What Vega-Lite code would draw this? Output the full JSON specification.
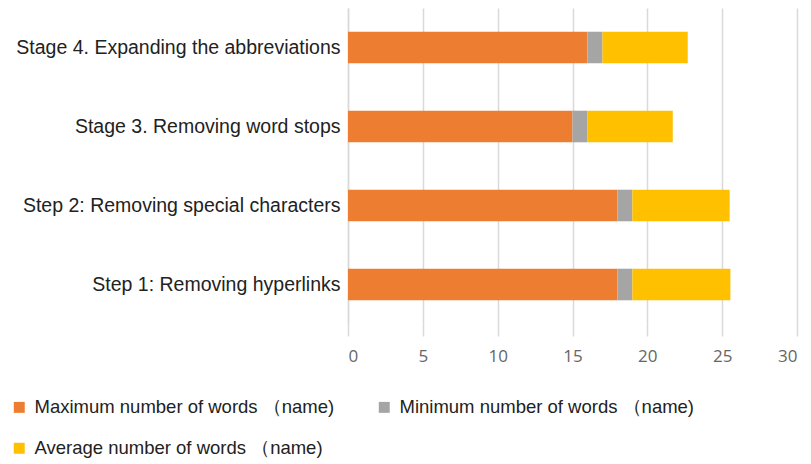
{
  "$schema": "https://vega.github.io/schema/vega-lite/v6.json",
  "width": 449,
  "height": 316,
  "autosize": {"type": "none"},
  "padding": {"left": 348, "top": 8, "right": 14, "bottom": 140},
  "background": "white",
  "config": {"view": {"stroke": null}, "font": "Liberation Sans"},
  "data": {"values": [
    {"stage": "Stage 4. Expanding the abbreviations", "series": "Maximum number of words （name)", "ord": 1, "value": 16},
    {"stage": "Stage 4. Expanding the abbreviations", "series": "Minimum number of words （name)", "ord": 2, "value": 1},
    {"stage": "Stage 4. Expanding the abbreviations", "series": "Average number of words （name)", "ord": 3, "value": 5.7},
    {"stage": "Stage 3. Removing word stops\u2002", "series": "Maximum number of words （name)", "ord": 1, "value": 15},
    {"stage": "Stage 3. Removing word stops\u2002", "series": "Minimum number of words （name)", "ord": 2, "value": 1},
    {"stage": "Stage 3. Removing word stops\u2002", "series": "Average number of words （name)", "ord": 3, "value": 5.7},
    {"stage": "Step 2: Removing special characters", "series": "Maximum number of words （name)", "ord": 1, "value": 18},
    {"stage": "Step 2: Removing special characters", "series": "Minimum number of words （name)", "ord": 2, "value": 1},
    {"stage": "Step 2: Removing special characters", "series": "Average number of words （name)", "ord": 3, "value": 6.5},
    {"stage": "Step 1: Removing hyperlinks", "series": "Maximum number of words （name)", "ord": 1, "value": 18},
    {"stage": "Step 1: Removing hyperlinks", "series": "Minimum number of words （name)", "ord": 2, "value": 1},
    {"stage": "Step 1: Removing hyperlinks", "series": "Average number of words （name)", "ord": 3, "value": 6.55}
  ]},
  "mark": {"type": "bar"},
  "encoding": {
    "y": {
      "field": "stage", "type": "nominal",
      "sort": ["Stage 4. Expanding the abbreviations", "Stage 3. Removing word stops\u2002", "Step 2: Removing special characters", "Step 1: Removing hyperlinks"],
      "scale": {"paddingInner": 0.6, "paddingOuter": 0.3},
      "axis": {"title": null, "labelFontSize": 19.5, "labelColor": "#222", "labelPadding": 8, "labelLimit": 400, "ticks": false, "domainColor": "#d9d9d9", "domainWidth": 1.5}
    },
    "x": {
      "field": "value", "type": "quantitative", "stack": "zero",
      "scale": {"domain": [0, 30], "nice": false},
      "axis": {"title": null, "values": [0, 5, 10, 15, 20, 25, 30], "domain": false, "grid": true, "gridColor": "#d9d9d9", "gridWidth": 1.5, "tickColor": "#d9d9d9", "tickSize": 12, "tickWidth": 1.5, "labelFontSize": 17, "labelColor": "#666", "labelFont": "Open Sans", "labelPadding": 12}
    },
    "color": {
      "field": "series", "type": "nominal",
      "scale": {"domain": ["Maximum number of words （name)", "Average number of words （name)", "Minimum number of words （name)"], "range": ["#ED7D31", "#FFC000", "#A5A5A5"]},
      "legend": {"title": null, "orient": "none", "legendX": -338, "legendY": 390, "columns": 2, "columnPadding": 40, "rowPadding": 22, "symbolType": "square", "symbolSize": 120, "symbolStrokeWidth": 0, "labelFontSize": 18.5, "labelColor": "#222", "labelLimit": 400, "labelOffset": 6}
    },
    "order": {"field": "ord", "type": "quantitative"}
  }
}
